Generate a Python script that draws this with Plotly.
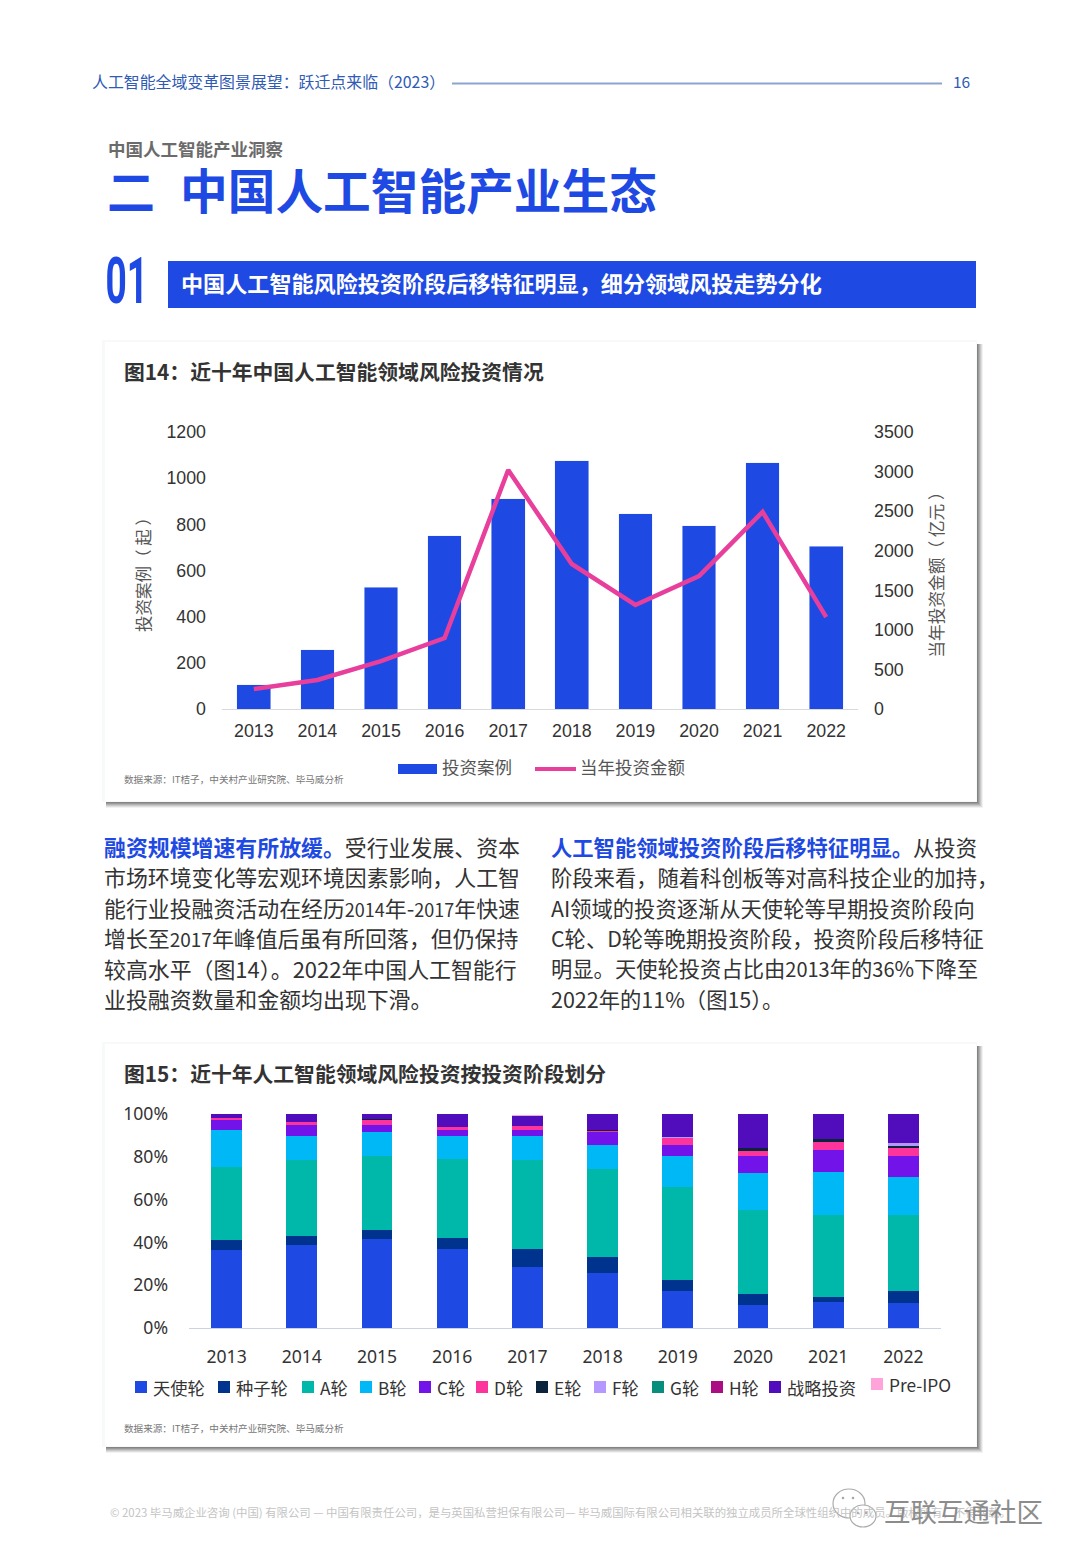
import re
import plotly.graph_objects as go

W, H = 1080, 1559
FONT = "Noto Sans CJK SC"
BLUE = "#1E49E2"

years = ["2013", "2014", "2015", "2016", "2017", "2018", "2019", "2020", "2021", "2022"]
deal_counts = [104, 256, 528, 750, 910, 1075, 845, 793, 1066, 706]
invest_amount = [253, 366, 606, 897, 3020, 1832, 1314, 1680, 2490, 1162]
legend_deals = "投资案例"
legend_amount = "当年投资金额"

angel = [36.3, 38.6, 41.7, 37.0, 28.6, 25.8, 17.3, 10.8, 12.3, 11.7]
seed = [5.0, 4.2, 3.9, 5.0, 8.1, 7.3, 5.2, 5.1, 2.1, 5.6]
round_a = [33.9, 35.5, 35.0, 37.2, 41.6, 41.3, 43.3, 39.3, 38.6, 35.7]
round_b = [17.2, 11.2, 11.0, 10.3, 11.2, 11.2, 14.5, 17.0, 19.8, 17.6]
round_c = [4.8, 5.3, 3.4, 2.8, 3.2, 6.1, 5.2, 8.1, 10.3, 9.7]
round_d = [1.1, 1.3, 2.5, 1.5, 1.8, 0.6, 3.3, 2.4, 3.9, 3.8]
round_e = [0, 0, 0.3, 0, 0, 0.2, 0, 1.4, 1.1, 1.4]
round_f = [0, 0, 0, 0, 0, 0, 0.6, 0, 0, 0.8]
round_g = [0, 0, 0, 0, 0, 0, 0, 0, 0, 0]
round_h = [0, 0, 0, 0, 0, 0, 0, 0, 0, 0]
strategic = [1.7, 3.9, 2.2, 6.2, 4.8, 7.5, 10.6, 15.9, 11.9, 13.7]
pre_ipo = [0, 0, 0, 0, 0.2, 0.2, 0, 0, 0, 0]

stage_names = ["天使轮", "种子轮", "A轮", "B轮", "C轮", "D轮", "E轮", "F轮", "G轮", "H轮", "战略投资", "Pre-IPO"]
stage_values = [angel, seed, round_a, round_b, round_c, round_d, round_e, round_f, round_g, round_h, strategic, pre_ipo]
stage_colors = ["#1E49E2", "#00338D", "#00B8A9", "#00B8F5", "#7213EA", "#FD349C", "#0C233C",
                "#B497FF", "#098E7E", "#AB0D82", "#510DBC", "#FFA3DA"]
stage_legend_x = [135, 218, 302, 360, 419, 476, 536, 594, 652, 711, 769, 871]

para_left = ["融资规模增速有所放缓。|受行业发展、资本",
             "市场环境变化等宏观环境因素影响，人工智",
             "能行业投融资活动在经历2014年-2017年快速",
             "增长至2017年峰值后虽有所回落，但仍保持",
             "较高水平（图14）。2022年中国人工智能行",
             "业投融资数量和金额均出现下滑。"]
para_left_digit_size = [19, 19, 18, 19, 22, 19]
para_right = ["人工智能领域投资阶段后移特征明显。|从投资",
              "阶段来看，随着科创板等对高科技企业的加持，",
              "AI领域的投资逐渐从天使轮等早期投资阶段向",
              "C轮、D轮等晚期投资阶段，投资阶段后移特征",
              "明显。天使轮投资占比由2013年的36%下降至",
              "2022年的11%（图15）。"]
para_right_digit_size = [20, 20, 20, 20, 20, 21.5]


def px(x):
    return x / W


def py(y):
    return 1 - y / H


shapes, annos = [], []


def text(x, y, s, size, color="#333333", anchor="left", family=FONT, angle=0, opacity=1):
    if anchor == "left":
        x -= 2
    y -= 1.5
    annos.append(dict(x=px(x), y=py(y), xref="paper", yref="paper", text=s, showarrow=False,
                      xanchor=anchor, yanchor="middle", align=anchor, textangle=angle, opacity=opacity,
                      font=dict(size=size, color=color, family=family)))


def rect(x0, y0, x1, y1, color, opacity=1, layer="below"):
    shapes.append(dict(type="rect", xref="paper", yref="paper", x0=px(x0), x1=px(x1), y0=py(y0), y1=py(y1),
                       fillcolor=color, opacity=opacity, line_width=0, layer=layer))


def line(x0, y0, x1, y1, color, width):
    shapes.append(dict(type="line", xref="paper", yref="paper", x0=px(x0), x1=px(x1), y0=py(y0), y1=py(y1),
                       line=dict(color=color, width=width), layer="below"))


def bubble(x0, y0, x1, y1, color="#ABABAB", fill="#FFFFFF", width=1.2):
    shapes.append(dict(type="circle", xref="paper", yref="paper", x0=px(x0), x1=px(x1), y0=py(y0), y1=py(y1),
                       line=dict(color=color, width=width), fillcolor=fill, layer="above"))


def card(x0, y0, x1, y1):
    for d, op in [(7, 0.08), (6, 0.12), (5, 0.16), (4, 0.2), (3, 0.25), (2, 0.3)]:
        rect(x0 + 1, y0 + 2, x1 + d, y1 + d, "#555555", op)
    rect(x0 - 3, y0 - 2, x1 + 1, y1 + 1, "#F8F9FB")
    rect(x0, y0, x1, y1, "#FFFFFF")


# page header
text(92, 83, "人工智能全域变革图景展望：跃迁点来临（2023）", 15.9, "#2F5BB5")
line(452, 83.5, 942, 83.5, "#8FA3CF", 2)
text(961, 83, "16", 15.5, "#2F5BB5", "center")
text(108, 150, "<b>中国人工智能产业洞察</b>", 17.5, "#6B6B6B")
text(107, 190, "<b>二</b>", 48, BLUE)
text(180, 190, "<b>中国人工智能产业生态</b>", 47.7, BLUE)
text(126, 283, "<b>01</b>", 64, BLUE, "center", "Roboto")
rect(168, 261, 976, 308, BLUE)
text(181, 284, "<b>中国人工智能风险投资阶段后移特征明显，细分领域风投走势分化</b>", 22.1, "#FFFFFF")

# chart cards
card(105, 342, 976, 801)
card(105, 1044, 976, 1446)
text(124, 373, "<b>图14：近十年中国人工智能领域风险投资情况</b>", 20.8, "#333333")
text(124, 1074, "<b>图15：近十年人工智能领域风险投资按投资阶段划分</b>", 20.8, "#333333")
text(124, 780, "数据来源：IT桔子，中关村产业研究院、毕马威分析", 9.6, "#777777")
text(124, 1429, "数据来源：IT桔子，中关村产业研究院、毕马威分析", 9.6, "#777777")

# chart 1 legend
rect(398, 764, 437, 774, BLUE, layer="above")
text(442, 768, legend_deals, 17.5, "#555555")
line(535, 769, 576, 769, "#E83E9C", 4)
text(580, 768, legend_amount, 17.5, "#555555")

# chart 2 legend
for name, color, lx in zip(stage_names, stage_colors, stage_legend_x):
    up = 3 if name == "Pre-IPO" else 0
    rect(lx, 1381 - up, lx + 12, 1393 - up, color, layer="above")
    text(lx + 18, 1389 - up, name, 17.3, "#333333")

# paragraphs: digit runs get their own size, as the reference sets them at a different scale
for para, digit_sizes, x0, fs in [(para_left, para_left_digit_size, 104, 21.9),
                                  (para_right, para_right_digit_size, 551, 21.3)]:
    for i, (ln, ds) in enumerate(zip(para, digit_sizes)):
        y = 848 + i * 30.3
        if "|" in ln:
            head, tail = ln.split("|")
            ln = f'<span style="color:{BLUE}"><b>{head}</b></span>{tail}'
        else:
            ln = re.sub(r"([0-9]+)", rf'<span style="font-size:{ds}px">\1</span>', ln)
        text(x0, y, ln, fs, "#333333")

# footer
text(110, 1513, "© 2023 毕马威企业咨询 (中国) 有限公司 — 中国有限责任公司，是与英国私营担保有限公司— 毕马威国际有限公司相关联的独立成员所全球性组织中的成员。版权所有，不得转载。",
     11.4, "#C4C4C4")
bubble(833, 1489, 865, 1518)
bubble(850, 1505, 876, 1527)
for bx, by in [(843, 1498), (853, 1498), (858, 1513), (866, 1513)]:
    bubble(bx - 1, by - 1, bx + 1, by + 1, "#999999", "#999999", 0.5)
text(884, 1512, "互联互通社区", 26.5, "#8C8C8C")

fig = go.Figure()

fig.add_trace(go.Bar(x=years, y=deal_counts, name=legend_deals, marker_color=BLUE, width=0.53,
                     xaxis="x", yaxis="y"))
fig.add_trace(go.Scatter(x=years, y=invest_amount, name=legend_amount, mode="lines",
                         line=dict(color="#E83E9C", width=4.5), xaxis="x", yaxis="y2"))
for name, vals, color in zip(stage_names, stage_values, stage_colors):
    fig.add_trace(go.Bar(x=years, y=vals, name=name, marker=dict(color=color, line_width=0), width=0.41,
                         xaxis="x3", yaxis="y3"))

tick1 = dict(size=17.8, color="#333333", family="Liberation Sans")
tick2 = dict(size=17.6, color="#333333", family="Noto Sans")
fig.update_layout(
    width=W, height=H, autosize=False, margin=dict(l=0, r=0, t=0, b=0, autoexpand=False),
    paper_bgcolor="#FFFFFF", plot_bgcolor="rgba(0,0,0,0)",
    barmode="stack", bargap=0.47, showlegend=False, shapes=shapes, annotations=annos,
    font=dict(family=FONT),
    xaxis=dict(domain=[px(222), px(858)], anchor="y", type="category", showgrid=False, ticks="",
               showline=True, linecolor="#D9D9D9", linewidth=1, tickfont=tick1, ticklabelstandoff=6),
    yaxis=dict(domain=[py(709), py(432)], range=[0, 1200], tickvals=[0, 200, 400, 600, 800, 1000, 1200],
               showgrid=False, zeroline=False, ticks="", tickfont=tick1, ticklabelstandoff=15,
               title=dict(text="投资案例（ 起 ）", standoff=11, font=dict(size=16.5, color="#555555", family=FONT))),
    yaxis2=dict(domain=[py(709), py(432)], range=[0, 3500], overlaying="y", side="right", anchor="x",
                tickvals=[0, 500, 1000, 1500, 2000, 2500, 3000, 3500], showgrid=False, zeroline=False,
                ticks="", tickfont=tick1, ticklabelstandoff=15,
                title=dict(text="当年投资金额（ 亿元 ）", standoff=18, font=dict(size=16.7, color="#555555", family=FONT))),
    xaxis3=dict(domain=[px(189), px(941)], anchor="y3", type="category", showgrid=False, ticks="",
                showline=True, linecolor="#CBD3E3", linewidth=1, tickfont=tick2, ticklabelstandoff=13),
    yaxis3=dict(domain=[py(1328), py(1114)], anchor="x3", range=[0, 100], tickvals=[0, 20, 40, 60, 80, 100],
                ticktext=["0%", "20%", "40%", "60%", "80%", "100%"], showgrid=False, zeroline=False,
                ticks="", tickfont=tick2, ticklabelstandoff=20),
)

post = """
document.body.style.margin='0';
function narrow01(){
  document.querySelectorAll('.annotation-text').forEach(function(t){
    if(t.textContent==='01'){
      t.style.transformBox='fill-box';
      t.style.transformOrigin='center';
      t.style.transform='scaleX(0.58)';
    }
  });
}
narrow01(); setTimeout(narrow01,100); setTimeout(narrow01,500);
"""
fig.write_html("out.html", config={"displayModeBar": False}, post_script=post)
